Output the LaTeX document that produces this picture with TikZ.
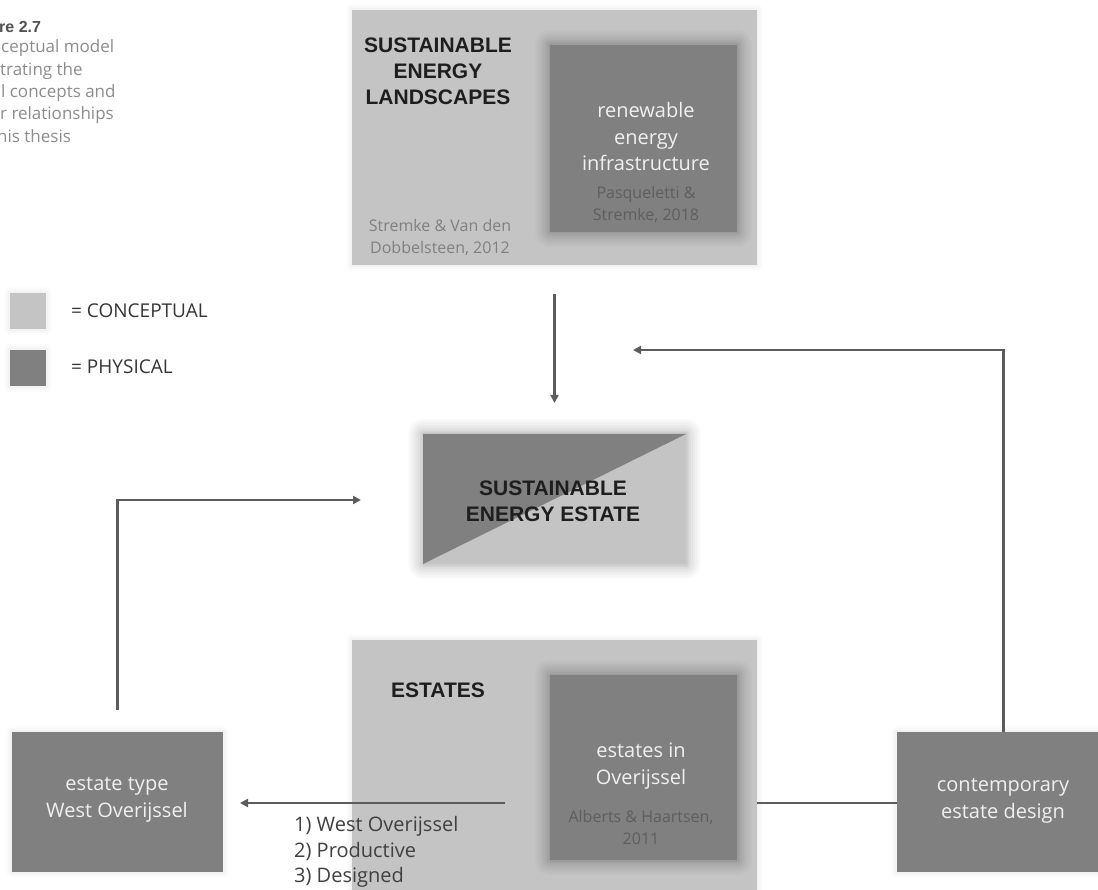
\documentclass[tikz,border=0pt]{standalone}
\usepackage{fontspec}
\setmainfont{Open Sans}
\newfontfamily\capsfont{Liberation Sans}
\usetikzlibrary{arrows.meta}
\definecolor{lightfill}{HTML}{C4C4C4}
\definecolor{darkfill}{HTML}{808080}
\definecolor{linec}{HTML}{5C5C5C}
\definecolor{whitetxt}{HTML}{F0F0F0}
\definecolor{citedark}{HTML}{5E5E5E}
\definecolor{citelight}{HTML}{808080}
\definecolor{captxt}{HTML}{8C8C8C}
\definecolor{capbold}{HTML}{505050}
\definecolor{blacktxt}{HTML}{1E1E1E}
\begin{document}
\begin{tikzpicture}[x=1pt,y=-1pt,
  softshadow/.style={
    preaction={draw=black,draw opacity=.018,line width=30pt,line join=round},
    preaction={draw=black,draw opacity=.018,line width=26pt,line join=round},
    preaction={draw=black,draw opacity=.02,line width=22pt,line join=round},
    preaction={draw=black,draw opacity=.022,line width=18pt,line join=round},
    preaction={draw=black,draw opacity=.025,line width=14pt,line join=round},
    preaction={draw=black,draw opacity=.03,line width=10pt,line join=round},
    preaction={draw=black,draw opacity=.035,line width=6pt,line join=round},
    preaction={draw=black,draw opacity=.04,line width=3pt,line join=round}},
  faintshadow/.style={
    preaction={draw=black,draw opacity=.012,line width=12pt,line join=round},
    preaction={draw=black,draw opacity=.015,line width=8pt,line join=round},
    preaction={draw=black,draw opacity=.02,line width=4pt,line join=round}},
  lightbox/.style={fill=lightfill,draw=none,inner sep=0pt,outer sep=0pt},
  darkbox/.style={fill=darkfill,draw=none,inner sep=0pt,outer sep=0pt},
  capsbold/.style={font=\capsfont\bfseries\fontsize{21}{26}\selectfont,text=blacktxt,align=center,inner sep=0pt},
  boxtxt/.style={font=\fontsize{20}{26.5}\selectfont,text=whitetxt,align=center,inner sep=0pt},
  citetxt/.style={font=\fontsize{16}{22}\selectfont,align=center,inner sep=0pt},
  captext/.style={font=\fontsize{17}{22}\selectfont,text=captxt,anchor=west,inner sep=0pt},
  legendtxt/.style={font=\fontsize{19}{24}\selectfont,text=blacktxt!90,anchor=west,inner sep=0pt},
  arr/.style={draw=linec,line width=2.4pt,-{Triangle[length=8pt,width=8pt]}},
  plain/.style={draw=linec,line width=2.4pt}
]
\useasboundingbox (0,0) rectangle (1098,890);

% caption (cut at the left edge)
\node[font=\capsfont\bfseries\fontsize{16}{20}\selectfont,text=capbold,anchor=west,inner sep=0pt] (cap0) at (-1,27) {re 2.7};
\node[captext] (cap1) at (1,48) {ceptual model};
\node[captext] (cap2) at (0,71) {trating the};
\node[captext] (cap3) at (1,93) {l concepts and};
\node[captext] (cap4) at (0,115) {r relationships};
\node[captext] (cap5) at (-3,136) {his thesis};

% legend
\node[lightbox,faintshadow,minimum width=36pt,minimum height=36pt] (legc) at (28,311) {};
\node[darkbox,faintshadow,minimum width=36pt,minimum height=36pt] (legp) at (28,368) {};
\node[legendtxt] (legctxt) at (71,311) {= CONCEPTUAL};
\node[legendtxt] (legptxt) at (71,367) {= PHYSICAL};

% top: sustainable energy landscapes
\node[lightbox,faintshadow,minimum width=405pt,minimum height=255pt] (sel) at (554.5,137.5) {};
\node[capsbold] (seltxt) at (438,71) {SUSTAINABLE\\ENERGY\\LANDSCAPES};
\node[citetxt,text=citelight] (selcite) at (440,237) {Stremke \& Van den\\Dobbelsteen, 2012};
\node[darkbox,softshadow,minimum width=187pt,minimum height=187pt] (rei) at (643.5,138.5) {};
\node[boxtxt] (reitxt) at (646,137) {renewable\\energy\\infrastructure};
\node[citetxt,text=citedark] (reicite) at (646,204) {Pasqueletti \&\\Stremke, 2018};

% centre: sustainable energy estate
\node[lightbox,softshadow,minimum width=263pt,minimum height=130pt,
  path picture={\fill[darkfill] (path picture bounding box.north west) -- (path picture bounding box.north east) -- (path picture bounding box.south west) -- cycle;}] (see) at (554.5,499) {};
\node[capsbold] (seetxt) at (553,501) {SUSTAINABLE\\ENERGY ESTATE};

% bottom: estates
\node[lightbox,faintshadow,minimum width=405pt,minimum height=270pt] (est) at (554.5,775) {};
\node[capsbold] (esttxt) at (438,690) {ESTATES};
\node[darkbox,softshadow,minimum width=187pt,minimum height=185pt] (eov) at (643.5,767.5) {};
\node[boxtxt] (eovtxt) at (641,766) {estates in\\Overijssel};
\node[citetxt,text=citedark] (eovcite) at (641,827) {Alberts \& Haartsen,\\2011};

% side boxes
\node[darkbox,faintshadow,minimum width=211pt,minimum height=140pt] (etype) at (117.5,802) {};
\node[boxtxt] (etypetxt) at (117,800) {estate type\\West Overijssel};
\node[darkbox,faintshadow,minimum width=213pt,minimum height=140pt] (cont) at (1003.5,802) {};
\node[boxtxt] (conttxt) at (1003,801) {contemporary\\estate design};

% list label
\node[font=\fontsize{20}{25.5}\selectfont,text=blacktxt!85,align=left,anchor=west,inner sep=0pt] (crit) at (294,852) {1) West Overijssel\\2) Productive\\3) Designed};

% connectors
\coordinate (rtip) at (633,350);
\coordinate (ltip) at (361,500);
\coordinate (bstart) at (505,803);
\draw[arr] ([yshift=-29pt]sel.south) -- ([yshift=31pt]see.north);
\draw[arr] (cont.north) |- (rtip);
\draw[arr] ([yshift=22pt]etype.north) |- (ltip);
\draw[arr] (bstart) -- ([xshift=17pt]etype.east |- bstart);
\draw[plain] (est.east |- bstart) -- (cont.west |- bstart);
\end{tikzpicture}
\end{document}
